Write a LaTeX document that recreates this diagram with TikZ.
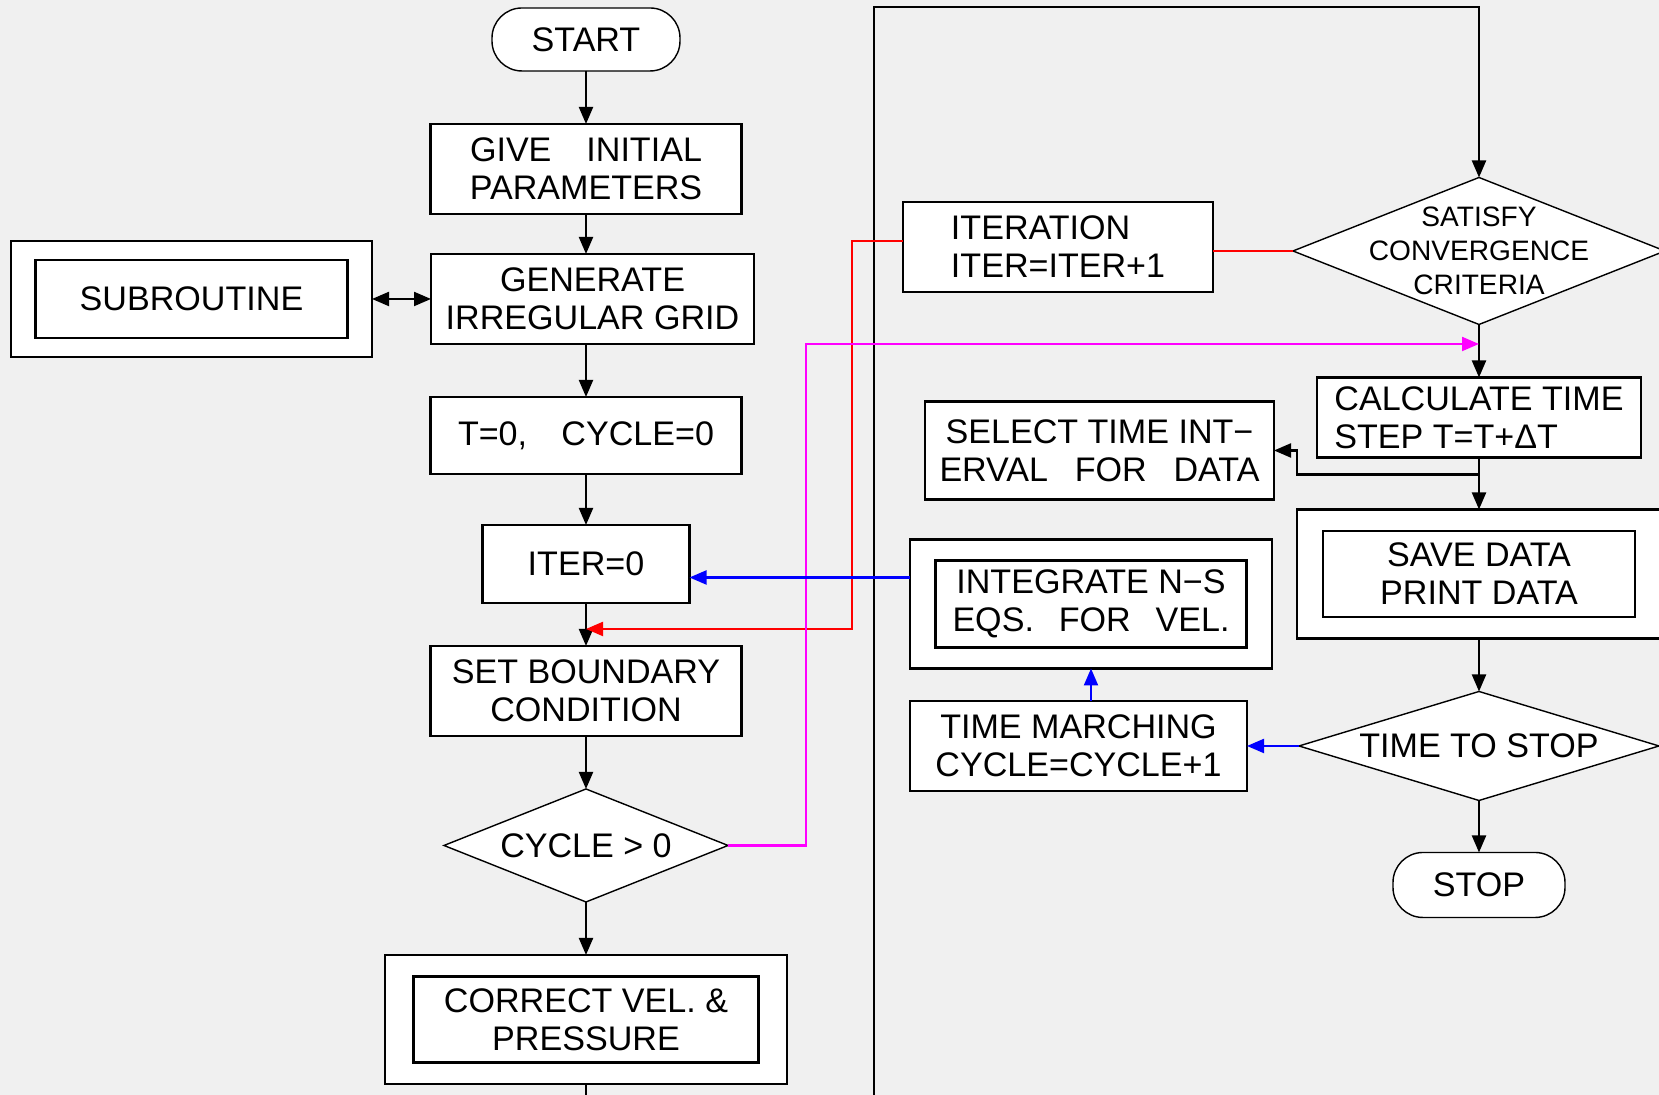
\documentclass[tikz,border=0pt]{standalone}
\usepackage{fontspec}
\setmainfont{Liberation Sans}
\usetikzlibrary{positioning,shapes.geometric,arrows.meta,calc}

\definecolor{mag}{RGB}{255,0,255}

\begin{document}
\begin{tikzpicture}[
    font=\fontsize{9.7}{10.8}\selectfont,
    b/.style={draw, line width=0.6pt, fill=white, align=center, inner sep=1pt, outer sep=0pt},
    box/.style={b, minimum width=3.11cm, minimum height=0.9cm},
    term/.style={draw, rounded corners=0.3cm, fill=white, line width=0.4pt, minimum height=0.63cm, inner sep=1pt, outer sep=0pt},
    dec/.style={draw, diamond, fill=white, line width=0.4pt, inner sep=0pt, outer sep=0pt},
    ln/.style={line width=0.6pt},
    fl/.style={ln, -{Triangle[length=1.7mm, width=1.4mm]}},
]
    \fill[black!6] (0,0) rectangle (16.59,10.95);
    \useasboundingbox (0,0) rectangle (16.59,10.95);

    % left column
    \node[term, minimum width=1.88cm] (start) at (5.86,10.555) {START};
    \node[box, below=0.53cm of start] (init) {\makebox[2.32cm][s]{GIVE INITIAL}\\PARAMETERS};
    \node[box, minimum width=3.23cm, below=0.40cm of init, xshift=0.065cm] (grid) {GENERATE\\IRREGULAR GRID};
    \node[box, minimum height=0.77cm, below=0.53cm of grid, xshift=-0.065cm] (t0) {\makebox[2.56cm][s]{T=0, CYCLE=0}};
    \node[box, minimum width=2.07cm, minimum height=0.78cm, below=0.51cm of t0] (it0) {ITER=0};
    \node[box, below=0.43cm of it0] (bc) {SET BOUNDARY\\CONDITION};
    \node[dec, shape aspect=2.51, minimum width=2.84cm, minimum height=1.13cm, below=0.53cm of bc] (cyc) {CYCLE > 0};
    \node[b, minimum width=4.02cm, minimum height=1.29cm, below=0.53cm of cyc] (cor) {};
    \node[b, minimum width=3.45cm, minimum height=0.86cm] (cori) at (cor) {CORRECT VEL. \&\\PRESSURE};
    \node[b, minimum width=3.61cm, minimum height=1.16cm, left=0.59cm of grid] (sub) {};
    \node[b, minimum width=3.12cm, minimum height=0.78cm] (subi) at (sub) {SUBROUTINE};

    % right column
    \node[dec, minimum width=3.72cm, minimum height=1.47cm,
          label={[align=center, font=\fontsize{8}{9.7}\selectfont]center:SATISFY\\CONVERGENCE\\CRITERIA}] (conv) at (14.79,8.44) {};
    \node[b, minimum width=3.24cm, minimum height=0.8cm, align=left, below=0.53cm of conv] (dt) {CALCULATE TIME\\STEP T=T+ΔT};
    \node[b, minimum width=3.64cm, minimum height=1.29cm, below=0.52cm of dt] (sv) {};
    \node[b, minimum width=3.12cm, minimum height=0.86cm] (svi) at (sv) {SAVE DATA\\PRINT DATA};
    \node[dec, shape aspect=3.3, minimum width=3.6cm, minimum height=1.09cm, below=0.53cm of sv] (tts) {TIME TO STOP};
    \node[term, minimum width=1.72cm, minimum height=0.65cm, below=0.52cm of tts] (stop) {STOP};

    % middle column
    \node[b, minimum width=3.10cm, minimum height=0.9cm, align=left, left=0.8cm of conv, yshift=0.04cm] (iter) {ITERATION\\ITER=ITER+1};
    \node[b, minimum width=3.49cm, minimum height=0.98cm, left=0.43cm of dt, yshift=-0.33cm] (sel) {SELECT TIME INT−\\\makebox[3.2cm][s]{ERVAL FOR DATA}};
    \node[b, minimum width=3.62cm, minimum height=1.29cm, left=0.25cm of sv, yshift=-0.30cm] (intg) {};
    \node[b, minimum width=3.11cm, minimum height=0.87cm] (intgi) at (intg) {INTEGRATE N−S\\\makebox[2.77cm][s]{EQS. FOR VEL.}};
    \node[b, minimum width=3.37cm, minimum height=0.9cm, left=0.52cm of tts] (tm) {TIME MARCHING\\CYCLE=CYCLE+1};

    \coordinate (lb) at (8.74,0);
    \coordinate (lt) at (8.74,10.88);
    \coordinate (cb) at (5.86,0);
    \coordinate (rd) at (8.52,4.66);
    \coordinate (mg) at (8.06,7.51);
    \coordinate (br) at ($(dt.south)+(0,-0.17)$);

    % black flow
    \draw[fl] (start) -- (init); \draw[fl] (init.south) -- (init.south |- grid.north);
    \draw[fl] (t0.north |- grid.south) -- (t0.north); \draw[fl] (t0) -- (it0);
    \draw[fl] (it0) -- (bc); \draw[fl] (bc) -- (cyc); \draw[fl] (cyc) -- (cor);
    \draw[ln] (cor) -- (cb);
    \draw[ln, {Triangle[length=1.7mm, width=1.4mm]}-{Triangle[length=1.7mm, width=1.4mm]}] (sub) -- (grid);
    \draw[fl] (lb) -- (lt) -| (conv.north);
    \draw[fl] (conv) -- (dt); \draw[fl] (dt) -- (sv); \draw[fl] (sv) -- (tts); \draw[fl] (tts) -- (stop);
    \draw[fl] (br) -| ([xshift=0.23cm]sel.east) -- (sel.east);

    % coloured loops
    \draw[ln, red] (conv.west) -- (conv.west -| iter.east);
    \draw[fl, red] ([yshift=0.06cm]iter.west) -| (rd) -- (rd -| bc.north);
    \draw[fl, mag] (cyc.east) -| (mg) -- (mg -| conv.south);
    \draw[fl, blue] ([yshift=0.265cm]intg.west) -- ([yshift=0.265cm]intg.west -| it0.east);
    \draw[fl, blue] (tts) -- (tm);
    \draw[fl, blue] (tm.north -| intg.south) -- (intg.south);
\end{tikzpicture}
\end{document}
